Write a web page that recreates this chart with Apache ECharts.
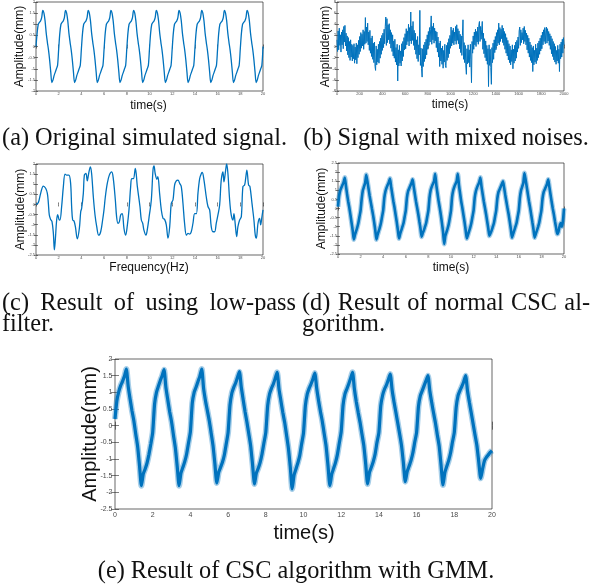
<!DOCTYPE html>
<html><head><meta charset="utf-8">
<script src="https://cdn.jsdelivr.net/npm/echarts@6/dist/echarts.min.js"></script>
<style>html,body{margin:0;padding:0;background:#fff}#c{width:602px;height:587px}</style>
</head><body><div id="c"></div>
<script>
// ---------- data ----------
// (a) original simulated signal, t = 0..20 s, step 0.1
const aValues = [
0.0,0.6,1.0,1.08,1.15,1.3,1.62,1.5,1.15,0.6,0.2,-0.15,-0.6,-1.15,-1.62,-1.5,-1.3,-1.15,-1.0,-0.85,
-0.1,0.6,1.0,1.08,1.15,1.3,1.62,1.5,1.15,0.6,0.2,-0.15,-0.6,-1.15,-1.62,-1.5,-1.3,-1.15,-1.0,-0.85,
-0.1,0.6,1.0,1.08,1.15,1.3,1.62,1.5,1.15,0.6,0.2,-0.15,-0.6,-1.15,-1.62,-1.5,-1.3,-1.15,-1.0,-0.85,
-0.1,0.6,1.0,1.08,1.15,1.3,1.62,1.5,1.15,0.6,0.2,-0.15,-0.6,-1.15,-1.62,-1.5,-1.3,-1.15,-1.0,-0.85,
-0.1,0.6,1.0,1.08,1.15,1.3,1.62,1.5,1.15,0.6,0.2,-0.15,-0.6,-1.15,-1.62,-1.5,-1.3,-1.15,-1.0,-0.85,
-0.1,0.6,1.0,1.08,1.15,1.3,1.62,1.5,1.15,0.6,0.2,-0.15,-0.6,-1.15,-1.62,-1.5,-1.3,-1.15,-1.0,-0.85,
-0.1,0.6,1.0,1.08,1.15,1.3,1.62,1.5,1.15,0.6,0.2,-0.15,-0.6,-1.15,-1.62,-1.5,-1.3,-1.15,-1.0,-0.85,
-0.1,0.6,1.0,1.08,1.15,1.3,1.62,1.5,1.15,0.6,0.2,-0.15,-0.6,-1.15,-1.62,-1.5,-1.3,-1.15,-1.0,-0.85,
-0.1,0.6,1.0,1.08,1.15,1.3,1.62,1.5,1.15,0.6,0.2,-0.15,-0.6,-1.15,-1.62,-1.5,-1.3,-1.15,-1.0,-0.85,
-0.1,0.6,1.0,1.08,1.15,1.3,1.62,1.5,1.15,0.6,0.2,-0.15,-0.6,-1.15,-1.62,-1.5,-1.3,-1.15,-1.0,-0.85,
0.0];

// (b) signal with mixed noises, samples 0..2000, step 5
const bValues = [
1.2,-0.9,2.8,-0.6,3.3,0.2,2.1,-1.0,2.6,0.3,3.0,-0.4,3.6,0.8,3.8,0.1,2.4,-0.8,1.9,-1.5,1.6,-2.0,0.9,-2.5,1.2,-1.9,0.4,-2.6,0.2,-2.2,0.5,-3.0,-0.1,-2.4,0.6,-3.1,0.3,-2.0,1.1,-1.4,
1.8,-0.9,2.5,-0.3,2.2,0.1,3.0,-0.5,2.7,0.4,5.2,0.6,3.5,0.9,4.2,0.3,2.6,-0.7,2.9,-1.2,1.5,-1.8,1.9,-2.3,0.6,-2.9,0.8,-3.6,-4.3,0.1,-3.3,-0.5,-2.8,0.4,-3.0,0.9,-2.1,1.5,-1.4,2.0,
-0.7,2.4,-0.2,3.1,0.5,3.6,5.3,0.2,5.0,0.7,3.9,1.2,4.1,0.5,3.0,-0.3,2.5,-0.9,2.1,-1.7,1.0,-2.1,1.3,-2.8,-0.2,-3.3,0.4,-6.2,-0.6,-3.5,0.2,-3.0,-0.8,-3.5,0.5,-2.6,0.9,-1.8,1.6,-0.6,
2.3,-0.4,3.2,0.3,2.8,0.9,4.0,0.1,3.4,1.0,6.2,0.5,3.7,1.1,4.5,0.2,2.9,-0.6,2.4,-1.4,1.2,-2.2,1.8,-2.7,0.3,-1.5,6.5,-3.4,-0.3,-4.0,-5.5,-0.4,-3.6,0.3,-2.7,0.8,-2.2,1.3,-1.5,2.1,
-0.5,2.7,0.2,3.4,0.8,3.0,5.5,0.4,3.6,1.2,4.2,0.6,3.3,1.0,2.8,-0.2,2.6,-1.0,1.7,-1.9,0.6,-3.6,1.0,-2.6,-0.3,-3.2,0.1,-3.9,-0.7,-2.8,0.4,-3.4,-3.8,0.2,-2.5,0.7,-2.0,1.4,-1.3,2.0,
-0.2,3.5,0.1,2.9,0.6,3.3,0.3,2.6,1.0,3.6,0.4,3.9,1.1,3.2,0.5,2.8,-0.4,2.2,-1.1,1.9,-1.6,2.0,4.8,-2.3,0.7,-2.9,0.2,-3.5,-5.0,-0.4,-3.1,0.3,-2.9,-0.6,-3.7,0.4,-2.3,-6.5,0.9,-1.2,
1.9,-0.5,2.6,0.3,3.1,0.0,2.7,0.8,3.5,0.4,3.9,4.5,0.9,3.6,1.3,3.0,4.5,-0.5,2.4,-1.3,1.4,-2.0,1.0,-2.6,0.2,-3.2,-0.4,-7.2,0.3,-3.4,-0.5,-3.8,-6.8,-0.2,-2.9,0.6,-2.3,1.2,-1.1,1.8,
-0.6,2.5,0.1,3.0,0.6,4.2,0.3,3.4,0.9,3.1,1.4,3.8,0.7,3.3,0.2,2.7,-0.5,2.3,-1.2,1.6,-1.7,1.1,-2.4,0.5,-2.9,0.1,-3.3,-0.6,-2.7,0.3,-4.0,-0.5,-3.0,0.2,-2.6,0.8,-2.1,1.1,-1.0,1.7,
-0.3,2.8,3.5,0.2,3.0,0.7,2.5,1.2,3.3,0.5,3.6,0.9,2.9,0.3,2.4,-0.6,2.0,-1.2,1.5,-1.9,0.8,-2.5,0.3,-2.9,-0.2,-4.5,0.1,-3.3,-0.7,-2.8,0.4,-3.1,-0.3,-2.5,0.6,-2.0,1.0,-1.4,1.5,-0.8,
2.0,-0.4,2.6,0.3,3.0,0.9,3.4,0.5,2.8,3.5,0.6,3.2,1.0,2.7,0.2,2.3,-0.5,1.9,-1.3,1.4,-1.8,0.9,-2.4,0.5,-2.8,0.0,-3.2,-0.7,-2.6,0.2,-3.0,-0.5,-4.5,0.4,-2.2,0.8,-1.9,1.3,-1.2,1.6,
0.3];

// (c) low-pass filter result: time and value
const cTimes = [0,0.2,0.41,0.65,0.85,1.0,1.09,1.17,1.29,1.41,1.53,1.62,1.7,1.82,1.91,2.03,2.11,2.26,2.41,2.56,2.7,2.9,3.05,3.14,3.23,3.35,3.47,3.64,3.82,3.94,4.02,4.17,4.26,4.4,4.52,4.64,4.79,4.9,5.05,5.2,5.35,5.52,5.7,5.87,5.99,6.11,6.28,6.46,6.67,6.81,6.99,7.1,7.22,7.34,7.46,7.6,7.75,7.9,8.05,8.19,8.34,8.43,8.58,8.75,8.93,9.16,9.28,9.4,9.51,9.69,9.8,9.99,
10.16,10.31,10.4,10.5,10.65,10.74,10.89,11.04,11.19,11.33,11.48,11.63,11.78,11.92,12.07,12.21,12.36,12.51,12.66,12.8,12.95,13.09,13.25,13.39,13.54,13.68,13.83,13.98,14.13,14.27,14.42,14.57,14.65,14.8,15.0,15.15,15.3,15.44,15.59,15.74,15.88,16.03,16.18,16.32,16.47,16.56,16.71,16.8,16.91,17.06,17.2,17.35,17.44,17.56,17.68,17.79,17.94,18.09,18.23,18.38,18.47,18.58,18.73,18.85,19.03,19.2,19.32,19.41,19.56,19.7,19.79,19.91,20];
const cValues = [0,0.08,0.55,0.91,0.8,0.55,0.05,-0.52,-0.74,-0.85,-1.43,-2.25,-1.76,-0.77,-0.5,-0.74,-0.77,-0.1,0.88,1.5,1.45,1.45,1.04,-0.1,-0.77,-0.82,-1.1,-1.7,-1.18,-0.36,-0.2,0.55,1.45,1.53,1.17,1.53,1.86,1.53,0.38,-0.52,-1.1,-1.52,-1.35,-0.77,-0.27,0.38,1.04,1.45,1.61,1.28,0.22,-0.6,-0.93,-0.86,-0.52,-0.45,-1.18,-1.52,-1.02,-0.28,0.88,1.28,1.28,1.78,0.88,-0.1,-0.77,-0.93,-1.27,-1.52,-1.27,-0.52,
0.22,1.7,1.9,1.53,1.24,1.37,0.55,-0.27,-0.69,-0.74,-1.01,-1.67,-1.1,0.05,0.22,0.96,1.17,1.2,1.04,0.88,0.05,-0.93,-1.52,-1.43,-1.47,-1.35,-0.93,-0.45,-0.45,0.55,1.28,1.53,1.58,1.2,0.38,-0.1,-0.27,-1.1,-1.35,-1.35,-0.93,-0.52,-0.03,1.2,1.61,1.12,1.7,2.0,1.53,0.22,-0.52,-0.77,-0.45,-1.01,-1.59,-1.1,-0.77,-0.6,0.88,0.96,1.28,1.7,0.96,0.88,0.05,-0.77,-1.52,-1.67,-0.93,-0.69,-1.01,-0.6,-0.27];

// (d) normal CSC result (band centre), t = 0..20 s, step 0.1
const dValues = [
0.1,0.7,1.0,1.15,1.3,1.45,1.7,1.25,0.8,0.4,0.05,-0.35,-0.78,-1.2,-1.7,-1.45,-1.25,-1.05,-0.8,-0.45,
-0.1,0.55,1.0,1.2,1.4,1.85,1.5,1.1,0.7,0.35,0.0,-0.35,-0.75,-1.2,-1.7,-1.45,-1.25,-1.05,-0.8,-0.45,
-0.1,0.6,0.95,1.15,1.3,1.45,1.65,1.2,0.8,0.4,0.05,-0.35,-0.75,-1.2,-1.65,-1.4,-1.2,-1.0,-0.8,-0.45,
-0.1,0.6,0.95,1.1,1.25,1.4,1.6,1.2,0.8,0.4,0.05,-0.3,-0.7,-1.1,-1.55,-1.35,-1.2,-1.0,-0.8,-0.45,
-0.1,0.6,1.0,1.2,1.35,1.5,1.9,1.3,0.85,0.42,0.05,-0.35,-0.8,-1.3,-1.95,-1.5,-1.3,-1.1,-0.85,-0.5,
-0.1,0.65,1.0,1.2,1.35,1.5,1.9,1.3,0.85,0.4,0.05,-0.35,-0.75,-1.2,-1.65,-1.45,-1.25,-1.05,-0.8,-0.45,
-0.1,0.6,0.95,1.15,1.3,1.45,1.7,1.2,0.8,0.4,0.05,-0.3,-0.7,-1.1,-1.5,-1.35,-1.2,-1.0,-0.8,-0.45,
-0.1,0.55,0.9,1.05,1.2,1.35,1.5,1.15,0.75,0.38,0.02,-0.32,-0.72,-1.15,-1.6,-1.4,-1.2,-1.0,-0.8,-0.45,
-0.1,0.6,1.0,1.2,1.4,1.95,1.6,1.2,0.8,0.4,0.05,-0.35,-0.75,-1.15,-1.6,-1.4,-1.22,-1.02,-0.8,-0.45,
-0.1,0.55,0.9,1.05,1.2,1.35,1.6,1.2,0.8,0.4,0.02,-0.32,-0.7,-1.05,-1.4,-1.3,-1.0,-0.8,-1.0,-0.7,
0.0];

// (e) CSC with GMM result (band centre), t = 0..20 s, step 0.1
const eValues = [
0.2,0.75,1.02,1.2,1.33,1.48,1.7,1.18,0.8,0.45,0.15,-0.25,-0.62,-1.2,-1.8,-1.45,-1.3,-1.12,-0.86,-0.55,
-0.2,0.65,1.0,1.18,1.35,1.5,1.68,1.15,0.78,0.42,0.12,-0.28,-0.66,-1.22,-1.8,-1.42,-1.25,-1.08,-0.85,-0.52,
-0.18,0.68,1.0,1.15,1.32,1.48,1.7,1.12,0.75,0.45,0.15,-0.22,-0.6,-1.15,-1.72,-1.4,-1.25,-1.1,-0.88,-0.55,
-0.2,0.62,0.98,1.15,1.28,1.45,1.62,1.15,0.78,0.42,0.1,-0.25,-0.62,-1.18,-1.75,-1.42,-1.28,-1.1,-0.85,-0.52,
-0.2,0.6,0.95,1.12,1.25,1.42,1.6,1.1,0.75,0.4,0.1,-0.28,-0.68,-1.25,-1.9,-1.48,-1.3,-1.12,-0.9,-0.55,
-0.22,0.6,0.95,1.12,1.25,1.4,1.58,1.12,0.75,0.42,0.12,-0.25,-0.62,-1.2,-1.8,-1.45,-1.28,-1.1,-0.86,-0.52,
-0.18,0.62,0.95,1.1,1.25,1.42,1.6,1.1,0.72,0.4,0.1,-0.25,-0.6,-1.15,-1.75,-1.4,-1.25,-1.08,-0.85,-0.5,
-0.2,0.6,0.92,1.1,1.22,1.38,1.55,1.08,0.72,0.4,0.08,-0.25,-0.6,-1.12,-1.68,-1.38,-1.22,-1.05,-0.82,-0.5,
-0.2,0.58,0.9,1.05,1.2,1.35,1.5,1.05,0.7,0.38,0.08,-0.28,-0.62,-1.2,-1.78,-1.4,-1.22,-1.05,-0.82,-0.5,
-0.2,0.55,0.9,1.05,1.18,1.32,1.5,1.05,0.7,0.38,0.05,-0.28,-0.6,-1.1,-1.58,-1.3,-1.05,-0.95,-0.88,-0.8,
-0.75];

// axis ranges: [min, max, interval]
const aX = [0, 20, 2],    aY = [-2, 2, 0.5];
const bX = [0, 2000, 200], bY = [-8, 8, 2];
const cX = [0, 20, 2],    cY = [-2.5, 2, 0.5];
const dX = [0, 20, 2],    dY = [-2.5, 2.5, 0.5];
const eX = [0, 20, 2],    eY = [-2.5, 2, 0.5];

// texts
const yTitle = 'Amplitude(mm)';
const xTitles = ['time(s)', 'time(s)', 'Frequency(Hz)', 'time(s)', 'time(s)'];
const capA = '(a) Original simulated signal.';
const capB = '(b) Signal with mixed noises.';
const capC = ['(c) Result of using low-pass', 'filter.'];
const capD = ['(d) Result of normal CSC al-', 'gorithm.'];
const capE = '(e) Result of CSC algorithm with GMM.';

// ---------- chart ----------
const BLUE = '#0072BD', AX = '#262626', LBL = '#4a4a4a';
const SANS = '"Liberation Sans", Arial, sans-serif';
const SERIF = '"Liberation Serif", "Times New Roman", serif';
const fmt = v => String(+(+v).toFixed(2));

const grids = [
  {left: 36, top: 2, width: 227, height: 89},
  {left: 337, top: 2, width: 227, height: 89},
  {left: 36, top: 164, width: 227, height: 91},
  {left: 338, top: 163, width: 226, height: 91},
  {left: 115, top: 359, width: 377, height: 150}
];
const specs = [
  {x: aX, y: aY, fs: 4, tl: 2, m: 1},
  {x: bX, y: bY, fs: 4, tl: 2, m: 1},
  {x: cX, y: cY, fs: 4, tl: 2, m: 1},
  {x: dX, y: dY, fs: 4, tl: 2, m: 1},
  {x: eX, y: eY, fs: 7, tl: 4, m: 2.5}
];

const xAxis = [], yAxis = [];
specs.forEach((s, i) => {
  const base = (r, pos, showLabel) => ({
    gridIndex: i, type: 'value', position: pos, min: r[0], max: r[1], interval: r[2],
    axisLine: {show: false},
    axisTick: {show: true, inside: true, length: s.tl, lineStyle: {color: AX, width: 0.6}},
    axisLabel: {show: showLabel, fontSize: s.fs, color: LBL, margin: s.m, fontFamily: SANS,
      formatter: fmt, showMinLabel: true, showMaxLabel: true, hideOverlap: false},
    splitLine: {show: false}
  });
  xAxis.push(base(s.x, 'bottom', true), base(s.x, 'top', false));
  yAxis.push(base(s.y, 'left', true), base(s.y, 'right', false));
});

const pairs = (vals, x0, x1) => vals.map((v, i) => [x0 + (x1 - x0) * i / (vals.length - 1), v]);
const line = (i, data, w, extra) => Object.assign({
  type: 'line', xAxisIndex: 2 * i, yAxisIndex: 2 * i, data, showSymbol: false, symbol: 'none',
  lineStyle: {color: BLUE, width: w}, itemStyle: {color: BLUE}, animation: false, silent: true,
  clip: true, sampling: null, z: 3
}, extra || {});

const series = [
  line(0, pairs(aValues, 0, 20), 1.3, {smooth: 0.3}),
  line(1, pairs(bValues, 0, 2000), 1.0),
  line(2, cTimes.map((t, k) => [t, cValues[k]]), 1.3, {smooth: 0.35}),
  line(3, pairs(dValues, 0, 20), 5, {smooth: 0.2, lineStyle: {color: 'rgba(0,114,189,0.35)', width: 5}}),
  line(3, pairs(dValues, 0, 20), 2.6, {smooth: 0.2, z: 4}),
  line(4, pairs(eValues, 0, 20), 6, {smooth: 0.2, lineStyle: {color: 'rgba(0,114,189,0.35)', width: 6}}),
  line(4, pairs(eValues, 0, 20), 3.2, {smooth: 0.2, z: 4})
];

// text helpers
const cv = document.createElement('canvas').getContext('2d');
function measure(t, font) { cv.font = font; return cv.measureText(t).width; }
function txt(x, y, text, font, align, rot) {
  return {type: 'text', x, y, rotation: rot || 0, silent: true, z: 10,
    style: {text, font, fill: '#111', align: align || 'center', verticalAlign: 'middle',
      textAlign: align || 'center', textVerticalAlign: 'middle'}};
}
const capSize = 24 * 285 / measure(capA, '24px ' + SERIF);
const CAPF = capSize.toFixed(2) + 'px ' + SERIF;
function justified(words, x0, x1, y) {
  const ws = words.map(w => measure(w, CAPF));
  const sum = ws.reduce((a, b) => a + b, 0);
  const gap = (x1 - x0 - sum) / (words.length - 1);
  let x = x0; const out = [];
  words.forEach((w, k) => { out.push(txt(x, y, w, CAPF, 'left')); x += ws[k] + gap; });
  return out;
}

const TF = '12px ' + SANS, TFE = '20px ' + SANS;
const graphic = [
  txt(20, 46.5, yTitle, TF, 'center', Math.PI / 2),
  txt(326, 46.5, yTitle, TF, 'center', Math.PI / 2),
  txt(21, 209.5, yTitle, TF, 'center', Math.PI / 2),
  txt(322, 208.5, yTitle, TF, 'center', Math.PI / 2),
  txt(90, 434, yTitle, TFE, 'center', Math.PI / 2),
  txt(148.5, 106, xTitles[0], TF),
  txt(450, 105, xTitles[1], TF),
  txt(149, 268, xTitles[2], TF),
  txt(451, 268, xTitles[3], TF),
  txt(304, 533, xTitles[4], TFE),
  txt(144.5, 139, capA, CAPF),
  txt(446, 139, capB, CAPF),
  ...justified(capC[0].split(' '), 2, 296, 304),
  txt(2, 325, capC[1], CAPF, 'left'),
  ...justified(capD[0].split(' '), 302, 590, 304),
  txt(302, 325, capD[1], CAPF, 'left'),
  txt(296, 572, capE, CAPF)
];

const chart = echarts.init(document.getElementById('c'), null, {renderer: 'canvas', width: 602, height: 587});
chart.setOption({
  animation: false,
  backgroundColor: '#ffffff',
  grid: grids.map(g => Object.assign({show: true, borderColor: AX, borderWidth: 0.7,
    backgroundColor: 'transparent', containLabel: false, outerBoundsMode: 'none'}, g)),
  xAxis, yAxis, series, graphic
});
</script></body></html>
